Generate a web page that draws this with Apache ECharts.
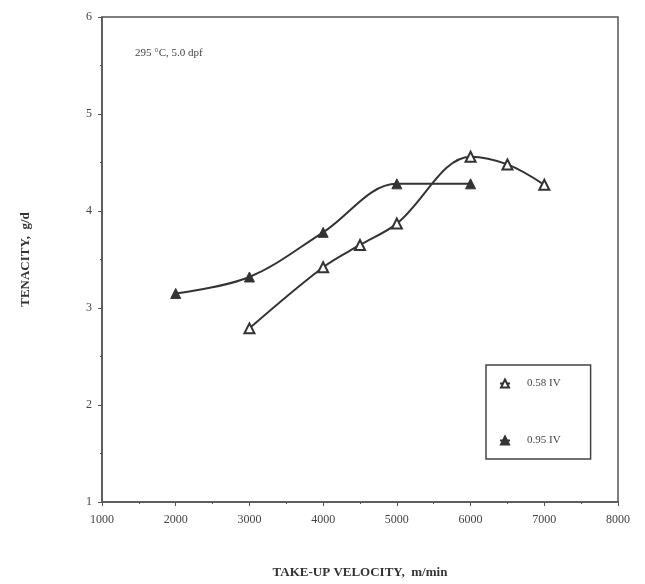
<!DOCTYPE html>
<html>
<head>
<meta charset="utf-8">
<script src="https://cdn.jsdelivr.net/npm/echarts@6/dist/echarts.min.js"></script>
<style>
html, body { margin: 0; padding: 0; background: #fff; }
#chart { width: 645px; height: 584px; }
</style>
</head>
<body>
<div id="chart"></div>
<script>
// 数据
var lowIvVelocity = [3000, 4000, 4500, 5000, 6000, 6500, 7000]
var lowIvTenacity = [2.79, 3.42, 3.65, 3.87, 4.56, 4.48, 4.27]
var highIvVelocity = [2000, 3000, 4000, 5000, 6000]
var highIvTenacity = [3.15, 3.32, 3.78, 4.28, 4.28]
var seriesNames = ['0.58 IV', '0.95 IV']
var note = '295 °C, 5.0 dpf'

function pairs(xs, ys) {
	var out = []
	for (var i = 0; i < xs.length; i++) {
		out.push([xs[i], ys[i]])
	}
	return out
}

var ink = '#333'
var serif = '"Liberation Serif", "DejaVu Serif", serif'

var myChart = echarts.init(document.getElementById('chart'))
myChart.setOption({
	animation: false,
	textStyle: { fontFamily: serif },
	grid: {
		left: 102,
		right: 27,
		top: 17,
		bottom: 82,
		show: true,
		borderColor: '#555',
		borderWidth: 1.5
	},
	graphic: [{
		type: 'text',
		left: 135,
		top: 48,
		style: {
			text: note,
			font: '11px ' + serif,
			fill: '#444'
		}
	}],
	legend: {
		orient: 'vertical',
		left: 486,
		top: 365,
		data: seriesNames,
		itemWidth: 10,
		itemHeight: 10,
		itemGap: 46,
		padding: [13, 30, 13, 13],
		borderColor: '#444',
		borderWidth: 1.5,
		textStyle: {
			fontSize: 11,
			color: '#444',
			fontFamily: serif,
			padding: [0, 0, 0, 12]
		}
	},
	xAxis: {
		type: 'value',
		min: 1000,
		max: 8000,
		interval: 1000,
		name: 'TAKE-UP VELOCITY,  m/min',
		nameLocation: 'middle',
		nameGap: 64,
		nameTextStyle: { fontSize: 13, fontWeight: 'bold', color: '#333', fontFamily: serif },
		axisLine: { lineStyle: { color: '#555', width: 1.5 } },
		axisTick: { length: 4, lineStyle: { color: '#555' } },
		minorTick: { show: true, splitNumber: 2, length: 2, lineStyle: { color: '#555' } },
		splitLine: { show: false },
		axisLabel: {
			fontSize: 12, color: '#444', margin: 12, fontFamily: serif,
			formatter: function(v) { return String(v) }
		}
	},
	yAxis: {
		type: 'value',
		min: 1,
		max: 6,
		interval: 1,
		name: 'TENACITY,  g/d',
		nameLocation: 'middle',
		nameGap: 70,
		nameTextStyle: { fontSize: 13, fontWeight: 'bold', color: '#333', fontFamily: serif },
		axisLine: { lineStyle: { color: '#555', width: 1.5 } },
		axisTick: { length: 4, lineStyle: { color: '#555' } },
		minorTick: { show: true, splitNumber: 2, length: 2, lineStyle: { color: '#555' } },
		splitLine: { show: false },
		axisLabel: { fontSize: 12, color: '#444', margin: 10, fontFamily: serif }
	},
	series: [{
		name: seriesNames[0],
		type: 'line',
		data: pairs(lowIvVelocity, lowIvTenacity),
		smooth: 0.35,
		symbol: 'triangle',
		symbolSize: 10,
		lineStyle: { color: ink, width: 2 },
		itemStyle: { color: '#fff', borderColor: ink, borderWidth: 2 }
	}, {
		name: seriesNames[1],
		type: 'line',
		data: pairs(highIvVelocity, highIvTenacity),
		smooth: 0.35,
		symbol: 'triangle',
		symbolSize: 10,
		lineStyle: { color: ink, width: 2 },
		itemStyle: { color: ink, borderColor: ink, borderWidth: 1 }
	}]
})
</script>
</body>
</html>
